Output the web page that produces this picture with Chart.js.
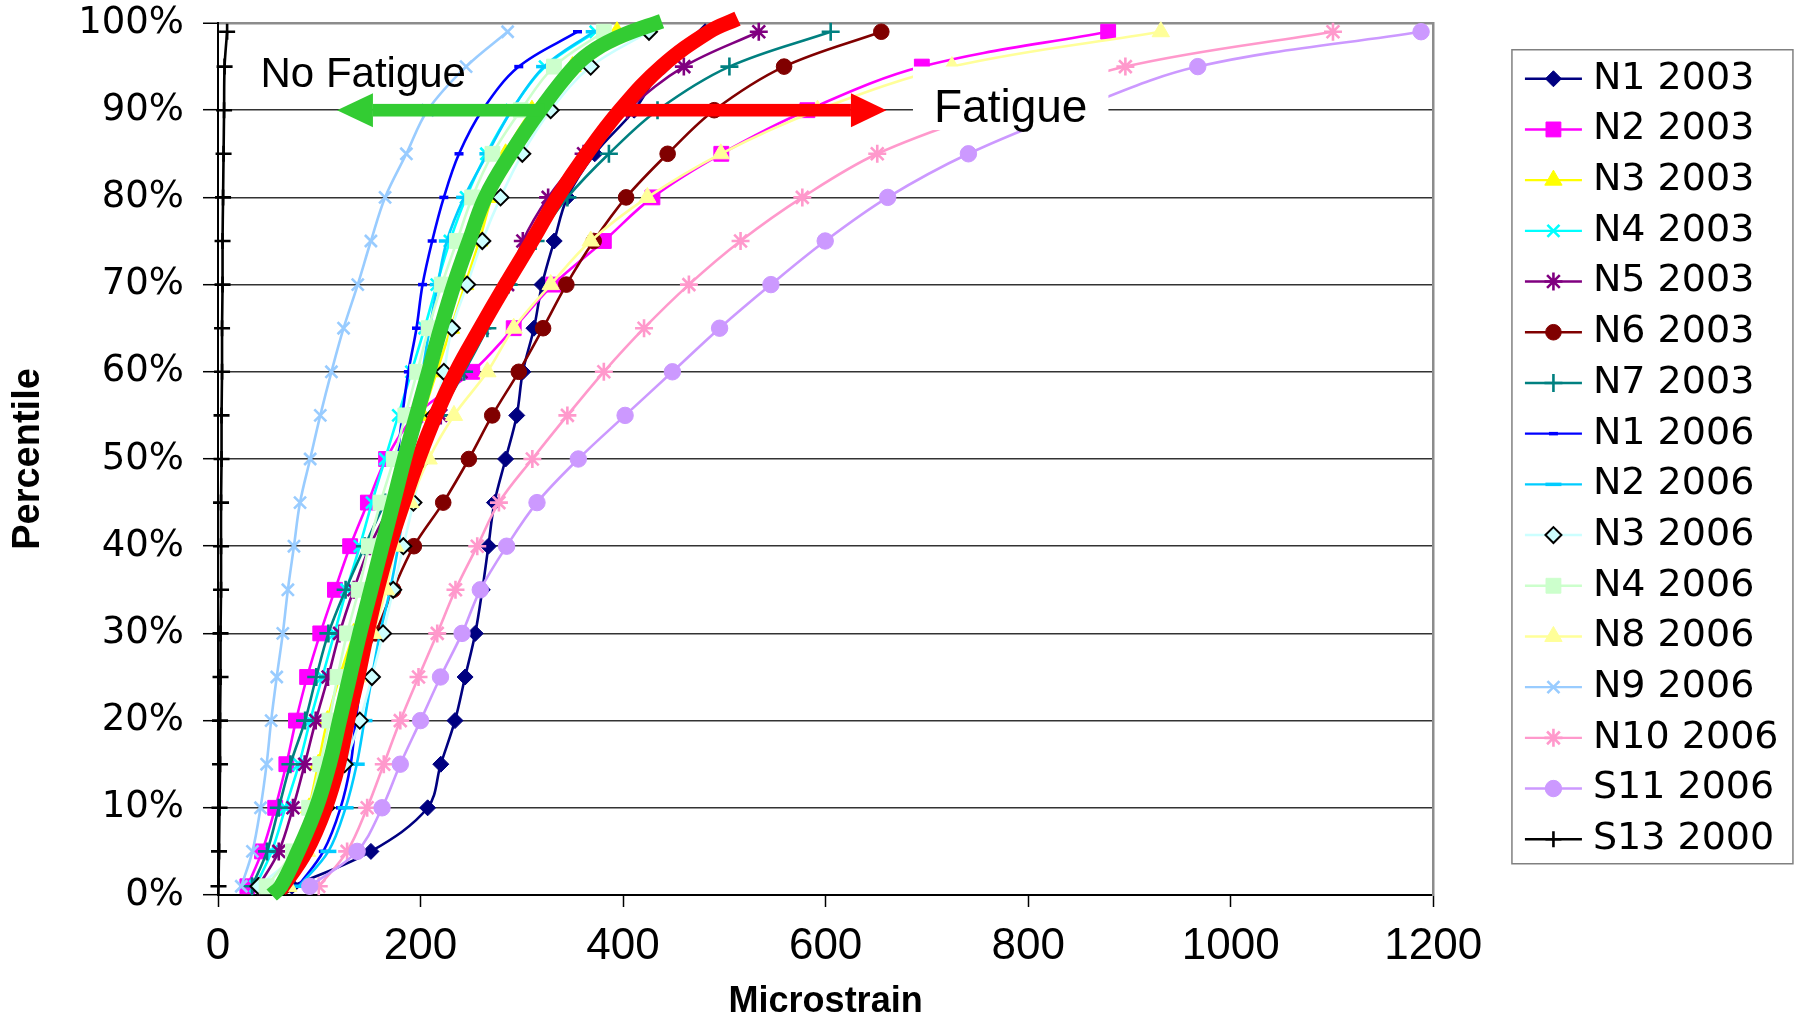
<!DOCTYPE html>
<html>
<head>
<meta charset="utf-8">
<script src="https://cdn.jsdelivr.net/npm/chart.js@4.4.1/dist/chart.umd.min.js"></script>
<style>
html,body{margin:0;padding:0;background:#fff;}
#wrap{width:1799px;height:1017px;position:relative;}
</style>
</head>
<body>
<div id="wrap"><canvas id="c"></canvas></div>
<script>
// ---------- DATA ----------
const percentiles = [1,5,10,15,20,25,30,35,40,45,50,55,60,65,70,75,80,85,90,95,99];
const seriesNames = ['N1 2003','N2 2003','N3 2003','N4 2003','N5 2003','N6 2003','N7 2003',
  'N1 2006','N2 2006','N3 2006','N4 2006','N8 2006','N9 2006','N10 2006','S11 2006','S13 2000'];

const N1_2003  = [73,151,207,220,234,244,254,261,267,273,284,295,301,312,320,332,345,372,411,440,481];
const N2_2003  = [29,43.5,56.5,67.5,77,88,101,115.5,130.5,148,166,195,251,292,331,381,429,497,582,695,879];
const N3_2003  = [68,80,90,99,108,120,134,148,161,175,189,202,216,230,244,258,270,284,310,350,394];
const N4_2003  = [37,53,66.5,80,91,103,115,127,140,152,165,178,191,204,216,229,245,265,290,323,373];
const N5_2003  = [40,60,74,85.6,96.5,108.7,120,134,150,172,197,220,240,261,286,301,326,361,404,460,534];
const N6_2003  = [65,85,98,110,122,135,155.5,173,193.4,222.4,247.7,270.8,297,321,344,371,403,444,490,559,655];
const N7_2003  = [33.6,48.4,60,71.5,86,97,109,126,145,165,190,218,243,266,287,313.6,345,386,434,505,605];
const N1_2006  = [79,104,121,131,136,142,150,158,166,172,177,182,188,196,202,211.5,223,238,261,297,355];
const N2_2006  = [80,109,126,137,144.6,152,160,170,178,184,190,196,202,209,217,226,243,266,290,322,371];
const N3_2006  = [40,80,107,125,140,152,163,173,183,193,203,213,223,231,246,261,279,300.5,328.5,368,425.6];
const N4_2006  = [48,74,90,101,110,118,127.5,139,149,160.4,173.6,185,196.7,208,221,236,251,271,299,331.7,381];
const N8_2006  = [69.5,88,100,112,124,138,153,166,175,190,208,233,266,292,328.5,368,424,496.5,592,724.7,931];
const N9_2006  = [23,34,42,48,52.5,58,64,69,75,81,91,101,112,124,138,151,165,186,207,245,286];
const N10_2006 = [99.5,127.5,147.3,163.7,180,198,216.5,234.5,256,277.4,310.4,345,381,420.7,465,516,577,651,765,896,1101];
const S11_2006 = [90.6,137.4,162,180,200,219.7,241,259,285,315,355.8,402,448.7,495.3,546,599.6,661.3,741,845,967.5,1188];
const S13_2000 = [0.5,1,1.5,2,2,2.5,2.5,3,3,3,3.5,3.5,4,4,4.5,4.5,5,5.5,6,6.5,9];

// hand-drawn envelope curves
const noFatiguePct = [0,1,5,10,15,20,25,30,35,40,45,50,55,60,65,70,75,80,85,90,95,97,98.6,100.2];
const noFatigueVal = [53,62,79,97,110,120,130,140,151,162,173,184,196,208,220,233,248,264,289,318,352,373,400,438];
const fatiguePct   = [0.5,5,10,15,20,25,30,35,40,45,50,55,60,65,70,75,80,85,90,95,99,100.5];
const fatigueVal   = [61,87,106,119,128,138,147,157,169,183,198,215,235,259,284,310,335,364,397,438,485,513];

// arrows and their labels (data units)
const arrowLabels   = ['No Fatigue','Fatigue'];
const arrowStart    = [322, 396];
const arrowHeadBase = [153, 625];
const arrowTip      = [117.5, 660];
const arrowLevel    = [90, 90];
const labelX        = [42, 707];
const labelBaseline = [92.7, 88.7];

// axes
const xMin = 0, xMax = 1200, xStep = 200;
const yMin = 0, yMax = 100, yStep = 10;
const xTitle = 'Microstrain';
const yTitle = 'Percentile';

// ---------- STYLES ----------
const seriesStyles = [
  {color:'#000080', point:'rectRot', r:8},
  {color:'#FF00FF', point:'rect', r:10.5},
  {color:'#FFFF00', point:'triangle', r:10},
  {color:'#00FFFF', point:'crossRot', r:8.5},
  {color:'#800080', point:'star', r:9},
  {color:'#800000', point:'circle', r:7.8},
  {color:'#008080', point:'cross', r:9},
  {color:'#0000FF', point:'line', r:4.5},
  {color:'#00CCFF', point:'line', r:8},
  {color:'#CCFFFF', point:'rectRot', r:8, pointBg:'#CCFFFF', pointBorder:'#000000'},
  {color:'#CCFFCC', point:'rect', r:10.5},
  {color:'#FFFF99', point:'triangle', r:10},
  {color:'#99CCFF', point:'crossRot', r:8.5},
  {color:'#FF99CC', point:'star', r:9},
  {color:'#CC99FF', point:'circle', r:8.2},
  {color:'#000000', point:'cross', r:8}
];
const strokeOnly = ['cross','crossRot','star','line'];
function pointBW(st){
  if (st.point === 'line') return 3.5;
  if (strokeOnly.includes(st.point)) return 2.6;
  return st.pointBorder ? 2 : 1;
}

const seriesData = [N1_2003,N2_2003,N3_2003,N4_2003,N5_2003,N6_2003,N7_2003,
  N1_2006,N2_2006,N3_2006,N4_2006,N8_2006,N9_2006,N10_2006,S11_2006,S13_2000];

const datasets = seriesData.map((vals, i) => {
  const st = seriesStyles[i];
  return {
    label: seriesNames[i],
    data: vals.map((v, k) => ({x: v, y: percentiles[k]})),
    showLine: true,
    borderColor: st.color,
    borderWidth: 2.6,
    tension: 0.35,
    pointStyle: st.point,
    pointRadius: st.r,
    pointHoverRadius: st.r,
    pointBackgroundColor: st.pointBg || st.color,
    pointBorderColor: st.pointBorder || st.color,
    pointBorderWidth: pointBW(st),
    order: 100 - i,
    clip: false
  };
});
datasets.push({
  label: 'fatigueCurve',
  data: fatigueVal.map((v, k) => ({x: v, y: fatiguePct[k]})),
  showLine: true, borderColor: '#FF0000', borderWidth: 15, pointRadius: 0,
  tension: 0.4, borderCapStyle: 'butt', order: -1, clip: false
});
datasets.push({
  label: 'noFatigueCurve',
  data: noFatigueVal.map((v, k) => ({x: v, y: noFatiguePct[k]})),
  showLine: true, borderColor: '#33CC33', borderWidth: 15, pointRadius: 0,
  tension: 0.4, borderCapStyle: 'butt', order: -2, clip: false
});

// ---------- PLUGINS ----------
const whiteBg = {
  id: 'whiteBg',
  beforeDraw(chart){
    const c = chart.ctx; c.save(); c.fillStyle = '#fff';
    c.fillRect(0, 0, chart.width, chart.height); c.restore();
  }
};

const annot = {
  id: 'annot',
  afterDatasetsDraw(chart){
    const {ctx, scales:{x, y}} = chart;
    const colors = ['#33CC33', '#FF0000'];
    ctx.save();
    for (let i = 0; i < 2; i++) {
      const ys = y.getPixelForValue(arrowLevel[i]);
      const xs = x.getPixelForValue(arrowStart[i]);
      const xb = x.getPixelForValue(arrowHeadBase[i]);
      const xt = x.getPixelForValue(arrowTip[i]);
      ctx.fillStyle = colors[i];
      const half = 6.3, headHalf = 17;
      ctx.fillRect(Math.min(xs, xb), ys - half, Math.abs(xs - xb), half * 2);
      ctx.beginPath();
      ctx.moveTo(xt, ys);
      ctx.lineTo(xb, ys - headHalf);
      ctx.lineTo(xb, ys + headHalf);
      ctx.closePath();
      ctx.fill();
    }
    const sizes = [42, 46];
    for (let i = 0; i < 2; i++) {
      const lx = x.getPixelForValue(labelX[i]);
      const ly = y.getPixelForValue(labelBaseline[i]);
      ctx.font = sizes[i] + 'px "Liberation Sans", Arial, sans-serif';
      const w = ctx.measureText(arrowLabels[i]).width;
      if (i === 1) {
        ctx.fillStyle = '#fff';
        ctx.fillRect(lx - 21, ly - 55, w + 42, 63.5);
      }
      ctx.fillStyle = '#000';
      ctx.textBaseline = 'alphabetic';
      ctx.textAlign = 'left';
      ctx.fillText(arrowLabels[i], lx, ly);
    }
    ctx.restore();
  }
};

const legendDecor = {
  id: 'legendDecor',
  afterDraw(chart){
    const lg = chart.legend;
    if (!lg || !lg.legendHitBoxes || !lg.legendHitBoxes.length) return;
    const ctx = chart.ctx;
    const hbs = lg.legendHitBoxes;
    ctx.save();
    hbs.forEach((hb, i) => {
      const st = seriesStyles[i];
      const cy = hb.top + hb.height / 2;
      const x0 = hb.left;
      ctx.strokeStyle = st.color; ctx.lineWidth = 2.4;
      ctx.beginPath(); ctx.moveTo(x0, cy); ctx.lineTo(x0 + 57, cy); ctx.stroke();
      ctx.fillStyle = st.pointBg || st.color;
      ctx.strokeStyle = st.pointBorder || st.color;
      const bw = pointBW(st);
      ctx.lineWidth = bw;
      Chart.helpers.drawPoint(ctx, {pointStyle: st.point, radius: st.r, rotation: 0, borderWidth: bw}, x0 + 28.5, cy);
    });
    const first = hbs[0], last = hbs[hbs.length - 1];
    const top = first.top + first.height / 2 - 29;
    const bottom = last.top + last.height / 2 + 24.5;
    ctx.strokeStyle = '#808080'; ctx.lineWidth = 1.5;
    ctx.strokeRect(first.left - 13, top, 281, bottom - top);
    ctx.restore();
  }
};

// ---------- CHART ----------
new Chart(document.getElementById('c'), {
  type: 'scatter',
  data: { datasets },
  plugins: [whiteBg, annot, legendDecor],
  options: {
    responsive: true,
    maintainAspectRatio: false,
    devicePixelRatio: 1,
    animation: false,
    events: [],
    layout: { padding: { left: 0, right: 10.5, top: 0, bottom: 0 } },
    plugins: {
      tooltip: { enabled: false },
      legend: {
        display: true,
        position: 'right',
        fullSize: false,
        align: 'center',
        labels: {
          boxWidth: 49,
          padding: 12.7,
          color: '#000',
          font: { family: '"DejaVu Sans", sans-serif', size: 38 },
          generateLabels: () => seriesNames.map((t, i) => ({
            text: t, datasetIndex: i, fillStyle: 'rgba(0,0,0,0)',
            strokeStyle: 'rgba(0,0,0,0)', lineWidth: 0, hidden: false, fontColor: '#000'
          }))
        }
      }
    },
    scales: {
      x: {
        type: 'linear', position: 'bottom', min: xMin, max: xMax,
        ticks: {
          stepSize: xStep, autoSkip: false, maxRotation: 0, padding: 13, color: '#000',
          callback: (v) => String(v),
          font: { family: '"Liberation Sans", Arial, sans-serif', size: 44 }
        },
        grid: { drawOnChartArea: false, drawTicks: true, tickLength: 12, tickColor: '#000', tickWidth: 1.5 },
        border: { display: true, color: '#000', width: 2 },
        title: {
          display: true, text: xTitle, color: '#000', padding: { top: 0, bottom: 0 },
          font: { family: '"Liberation Sans", Arial, sans-serif', size: 36, weight: 'bold', lineHeight: 0.85 }
        },
        afterFit: (s) => { s.height = 122; }
      },
      y: {
        type: 'linear', position: 'left', min: yMin, max: yMax,
        ticks: {
          stepSize: yStep, padding: 19, color: '#000',
          callback: (v) => v + '%',
          font: { family: '"DejaVu Sans", sans-serif', size: 37 }
        },
        grid: {
          drawTicks: true, tickLength: 15, tickColor: '#000', tickWidth: 1.5,
          color: (c) => c.tick && c.tick.value === 100 ? '#8c8c8c' : (c.tick && c.tick.value === 0 ? 'rgba(0,0,0,0)' : '#333333'),
          lineWidth: (c) => c.tick && c.tick.value === 100 ? 2.5 : 1.4
        },
        border: { display: true, color: '#000', width: 2 },
        title: {
          display: true, text: yTitle, color: '#000', padding: { top: 6, bottom: 0 },
          font: { family: '"Liberation Sans", Arial, sans-serif', size: 38, weight: 'bold' }
        },
        afterFit: (s) => { s.width = 218; s.paddingTop = 23; s.paddingBottom = 0; }
      },
      y2: {
        type: 'linear', position: 'right', min: 0, max: 1, display: true,
        ticks: { display: false },
        grid: { display: false, drawTicks: false },
        border: { display: true, color: '#8c8c8c', width: 2.5 },
        afterFit: (s) => { s.width = 79; }
      }
    }
  }
});
</script>
</body>
</html>
